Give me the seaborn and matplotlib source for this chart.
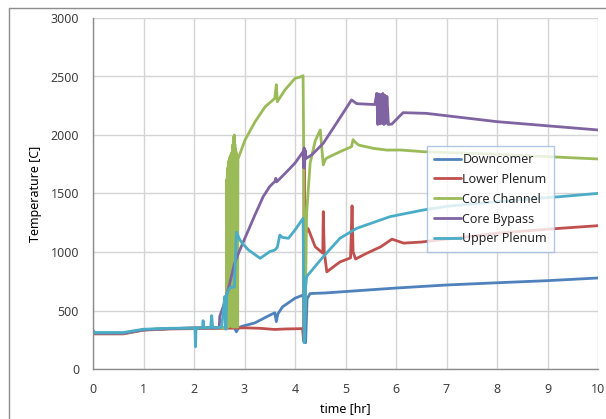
import numpy as np
import pandas as pd
import matplotlib
matplotlib.use("Agg")
import matplotlib.pyplot as plt
from matplotlib.lines import Line2D
import seaborn as sns

# ---- series data: time [hr] and temperature [C] ----
downcomer_t = [0, 0.6, 1.0, 1.5, 2.0, 2.5, 2.8, 2.84, 2.88, 2.95, 3.2, 3.5, 3.6, 3.63,
               3.66, 3.75, 4.0, 4.15, 4.18, 4.21, 4.24, 4.3, 4.6, 5.0, 6, 7, 8, 9, 10]
downcomer_T = [305, 305, 335, 345, 350, 352, 352, 318, 352, 365, 393, 460, 480, 405,
               470, 530, 605, 630, 600, 225, 600, 645, 650, 662, 692, 718, 737, 755, 778]

lower_t = [0, 0.6, 1.0, 1.5, 2.0, 2.5, 2.85, 3.0, 3.3, 3.6, 3.8, 4.15, 4.17, 4.18, 4.2,
           4.26, 4.4, 4.55, 4.56, 4.58, 4.63, 4.75, 4.89, 5.1, 5.13, 5.15, 5.2, 5.4,
           5.7, 5.92, 6.15, 6.5, 7, 8, 9, 10]
lower_T = [300, 300, 332, 342, 345, 348, 350, 352, 348, 338, 342, 345, 240, 1850, 1150,
           1200, 1045, 990, 1345, 1000, 830, 870, 915, 950, 1395, 1000, 940, 985,
           1045, 1110, 1076, 1085, 1110, 1160, 1195, 1225]

channel_t = [0, 0.6, 1.0, 1.5, 2.0, 2.5, 2.64, 2.65, 2.655, 2.66, 2.665, 2.67, 2.675,
             2.68, 2.685, 2.69, 2.695, 2.70, 2.75, 2.755, 2.76, 2.765, 2.77, 2.775,
             2.78, 2.785, 2.79, 2.795, 2.80, 2.805, 2.81, 2.815, 2.82, 2.825, 2.83,
             2.835, 2.84, 2.845, 2.85, 2.855, 2.86, 2.865, 2.87, 2.88, 3.01, 3.21,
             3.41, 3.6, 3.63, 3.65, 3.8, 4.0, 4.1, 4.16, 4.17, 4.19, 4.21, 4.23, 4.3,
             4.4, 4.5, 4.56, 4.6, 4.63, 4.89, 5.12, 5.15, 5.19, 5.26, 5.55, 5.82,
             6.08, 6.55, 7, 8, 9, 9.25, 10]
channel_T = [305, 305, 335, 345, 350, 352, 350, 1620, 360, 1680, 360, 1720, 360,
             1760, 360, 1780, 360, 1800, 1850, 360, 1880, 360, 1920, 360,
             1950, 360, 1990, 360, 2000, 360, 1920, 360, 1880, 360, 1860,
             360, 1840, 360, 1820, 360, 1810, 360, 1800, 1805, 1957, 2114,
             2242, 2313, 2430, 2285, 2385, 2484, 2495, 2507, 2000, 330, 700, 1330, 1760,
             1950, 2043, 1744, 1790, 1803, 1857, 1900, 1960, 1940, 1914, 1886, 1871,
             1872, 1857, 1850, 1835, 1815, 1810, 1795]

bypass_t = [0, 0.6, 1.0, 1.5, 2.0, 2.5, 2.51, 2.6, 2.7, 2.8, 2.9, 3.0, 3.2, 3.37, 3.5,
            3.57, 3.6, 3.62, 3.64, 3.87, 4.0, 4.16, 4.17, 4.18, 4.19, 4.2, 4.22, 4.33,
            4.56, 4.82, 5.12, 5.22, 5.58, 5.62, 5.64, 5.66, 5.68, 5.70, 5.72, 5.74,
            5.76, 5.78, 5.80, 5.82, 5.85, 5.92, 6.14, 6.6, 8.0, 10]
bypass_T = [305, 305, 335, 345, 350, 352, 450, 560, 720, 900, 1010, 1110, 1310, 1473, 1560,
            1590, 1600, 1630, 1600, 1701, 1760, 1857, 1720, 1890, 1718, 1870, 1800, 1829,
            1929, 2100, 2300, 2268, 2260, 2356, 2090, 2350, 2095, 2345, 2100, 2355,
            2090, 2340, 2100, 2330, 2090, 2094, 2191, 2185, 2114, 2043]

upper_t = [0, 0.03, 0.6, 1.0, 1.5, 2.0, 2.02, 2.03, 2.04, 2.17, 2.18, 2.19, 2.33, 2.35,
           2.37, 2.5, 2.55, 2.58, 2.61, 2.63, 2.65, 2.7, 2.76, 2.8, 2.84, 2.9, 2.95,
           3.08, 3.31, 3.5, 3.6, 3.65, 3.7, 3.75, 3.87, 4.0, 4.16, 4.18, 4.21, 4.23,
           4.56, 4.89, 5.22, 5.88, 6.54, 7, 8, 9, 9.25, 10]
upper_T = [335, 312, 312, 340, 348, 350, 350, 190, 350, 352, 413, 352, 355, 456,
           355, 355, 360, 500, 620, 340, 640, 690, 700, 700, 1170, 1110, 1077,
           1017, 946, 1003, 1017, 1040, 1145, 1125, 1117, 1188, 1288, 225, 700, 790,
           960, 1117, 1202, 1302, 1359, 1390, 1430, 1465, 1473, 1501]

series_names = ["Downcomer", "Lower Plenum", "Core Channel", "Core Bypass", "Upper Plenum"]
series_colors = ["#4F81BD", "#C0504D", "#9BBB59", "#8064A2", "#4BACC6"]

x_ticks = [0, 1, 2, 3, 4, 5, 6, 7, 8, 9, 10]
y_ticks = [0, 500, 1000, 1500, 2000, 2500, 3000]

frames = []
for name, t, T in zip(series_names,
                      [downcomer_t, lower_t, channel_t, bypass_t, upper_t],
                      [downcomer_T, lower_T, channel_T, bypass_T, upper_T]):
    frames.append(pd.DataFrame({"time": t, "temp": T, "series": name,
                                "order": np.arange(len(t))}))
df = pd.concat(frames, ignore_index=True)

sns.set_theme(style="white")
plt.rcParams["font.family"] = ["Noto Sans", "DejaVu Sans"]

fig = plt.figure(figsize=(6.06, 4.19), dpi=100)
ax = fig.add_axes([93 / 606, 1 - 369 / 419, 505 / 606, 351 / 419])

sns.lineplot(data=df, x="time", y="temp", hue="series", hue_order=series_names,
             palette=series_colors, estimator=None, sort=False, linewidth=2.0,
             ax=ax, legend=True)

ax.set_xlim(0, 10)
ax.set_ylim(0, 3000)
ax.set_xticks(x_ticks)
ax.set_yticks(y_ticks)
ax.grid(True, color="#D4D4D4", linewidth=1.0)
ax.set_axisbelow(True)
for side in ["top", "right"]:
    ax.spines[side].set_visible(False)
for side in ["left", "bottom"]:
    ax.spines[side].set_color("#8C8C8C")
    ax.spines[side].set_linewidth(1.0)
ax.tick_params(axis="both", direction="out", length=4, width=1, color="#8C8C8C",
               labelsize=9, labelcolor="#404040")
ax.tick_params(axis="x", pad=6)
ax.tick_params(axis="y", pad=6)

ax.set_xlabel("time [hr]", fontsize=9, fontweight="bold", color="black")
ax.set_ylabel("Temperature [C]", fontsize=9, fontweight="bold", color="black")
ax.xaxis.set_label_coords(0.5, -0.095)
ax.yaxis.set_label_coords(-0.1, 0.5)

handles, labels = ax.get_legend_handles_labels()
for h in handles:
    h.set_linewidth(2.0)
leg = ax.legend(handles, labels, loc="upper left", bbox_to_anchor=(0.661, 0.635),
                fontsize=9, frameon=True, fancybox=False, handlelength=2.15,
                handletextpad=0.15, labelspacing=0.55, borderpad=0.55,
                borderaxespad=0.0)
leg.get_frame().set_edgecolor("#9DBBE0")
leg.get_frame().set_linewidth(1.0)
leg.get_frame().set_facecolor("white")
for txt in leg.get_texts():
    txt.set_color("#262626")

# outer chart-area border
fig.add_artist(Line2D([9 / 606, 1.0], [1 - 8 / 419, 1 - 8 / 419],
                      transform=fig.transFigure, color="#8C8C8C", linewidth=1.0))
fig.add_artist(Line2D([9 / 606, 9 / 606], [0.0, 1 - 8 / 419],
                      transform=fig.transFigure, color="#8C8C8C", linewidth=1.0))

fig.savefig("out.png", dpi=100)
